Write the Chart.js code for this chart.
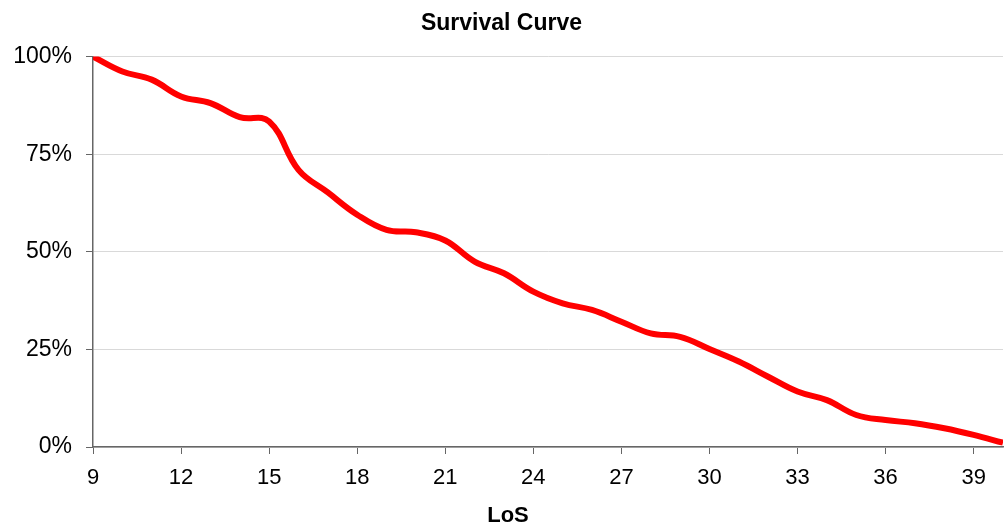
<!DOCTYPE html>
<html>
<head>
<meta charset="utf-8">
<script src="https://cdn.jsdelivr.net/npm/chart.js@4"></script>
<style>
  html, body { margin: 0; padding: 0; background: #fff; }
  #wrap { width: 1004px; height: 524px; }
</style>
</head>
<body>
<div id="wrap"><canvas id="chart" width="1004" height="524"></canvas></div>
<script>
// Length of stay (days) and share still in hospital (%)
const losDays = [9, 10, 11, 12, 13, 14, 15, 16, 17, 18, 19, 20, 21, 22, 23, 24,
                 25, 26, 27, 28, 29, 30, 31, 32, 33, 34, 35, 36, 37, 38, 39, 40];
const survivalPct = [100, 96.2, 94.1, 89.8, 88.1, 84.5, 83.4, 71, 65.2, 59.5, 55.6, 55, 52.9, 47.5, 44.5, 39.8,
                     36.8, 35.1, 32.1, 29.1, 28.2, 25.1, 21.9, 18, 14.2, 12, 8.2, 6.9, 6.1, 4.8, 3.1, 1.1];
const xTickValues = [9, 12, 15, 18, 21, 24, 27, 30, 33, 36, 39];
const yTickValues = [0, 25, 50, 75, 100];

const fontFamily = '"Liberation Sans", Arial, Helvetica, sans-serif';

// x axis title is drawn centred on the canvas, like the original
const xTitlePlugin = {
    id: 'xTitle',
    afterDraw(chart) {
        const ctx = chart.ctx;
        ctx.save();
        ctx.font = 'bold 22px ' + fontFamily;
        ctx.fillStyle = '#000';
        ctx.textAlign = 'center';
        ctx.textBaseline = 'middle';
        ctx.fillText('LoS', 508, 516);
        ctx.restore();
    }
};

new Chart(document.getElementById('chart'), {
    type: 'line',
    data: {
        datasets: [{
            label: 'Survival',
            data: losDays.map((d, i) => ({ x: d, y: survivalPct[i] })),
            borderColor: '#ff0000',
            borderWidth: 6,
            pointRadius: 0,
            tension: 0.4,
            fill: false
        }]
    },
    options: {
        responsive: false,
        animation: false,
        layout: { padding: { left: 0, right: 1, top: 0, bottom: 0 } },
        plugins: {
            legend: { display: false },
            tooltip: { enabled: false },
            title: {
                display: true,
                text: 'Survival Curve',
                color: '#000',
                font: { family: fontFamily, size: 23, weight: 'bold' },
                padding: { top: 10, bottom: 19 }
            }
        },
        scales: {
            x: {
                type: 'linear',
                min: 9,
                max: 40,
                afterBuildTicks: scale => { scale.ticks = xTickValues.map(v => ({ value: v })); },
                afterFit: scale => { scale.height = 77; },
                grid: { drawOnChartArea: false, drawTicks: true, tickLength: 7, tickColor: '#666' },
                border: { color: '#666', width: 1.5 },
                ticks: {
                    color: '#000',
                    padding: 11,
                    maxRotation: 0,
                    font: { family: fontFamily, size: 22 }
                }
            },
            y: {
                min: 0,
                max: 100,
                afterBuildTicks: scale => { scale.ticks = yTickValues.map(v => ({ value: v })); },
                afterFit: scale => { scale.width = 93; },
                grid: { color: '#d9d9d9', lineWidth: 1, tickLength: 7, tickColor: '#666' },
                border: { color: '#666', width: 1.5 },
                ticks: {
                    color: '#000',
                    padding: 14,
                    font: { family: fontFamily, size: 23 },
                    callback: v => v + '%'
                }
            }
        }
    },
    plugins: [xTitlePlugin]
});
</script>
</body>
</html>
